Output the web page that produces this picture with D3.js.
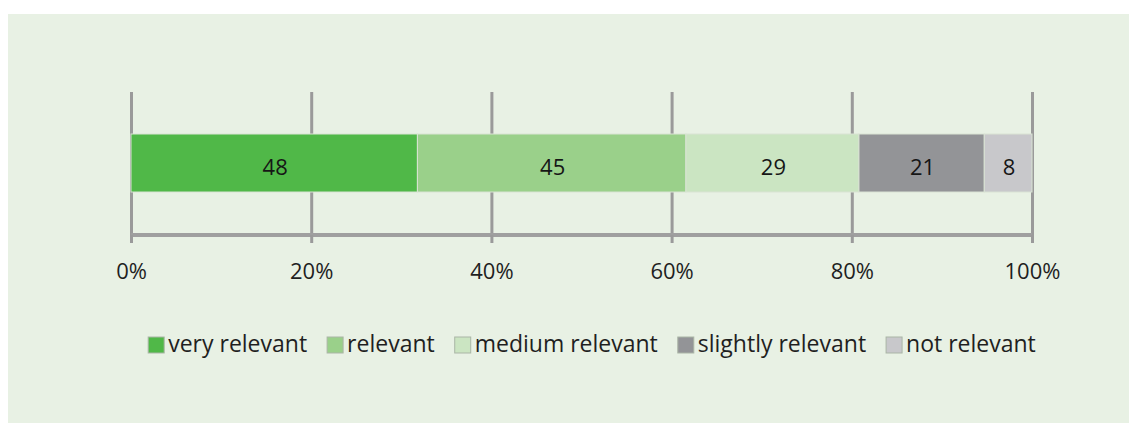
<!DOCTYPE html>
<html>
<head>
<meta charset="utf-8">
<script src="https://cdn.jsdelivr.net/npm/d3@7"></script>
<style>
  html, body { margin: 0; padding: 0; background: #ffffff; }
  svg { display: block; }
</style>
</head>
<body>
<svg id="chart" width="1129" height="423"></svg>
<script>
// ---- data ----
const categories = ["very relevant", "relevant", "medium relevant", "slightly relevant", "not relevant"];
const values = [48, 45, 29, 21, 8];
const colors = ["#50b848", "#9ad08a", "#cbe5c2", "#939497", "#c8c8cb"];
const tickValues = [0, 0.2, 0.4, 0.6, 0.8, 1.0];
const tickLabels = ["0%", "20%", "40%", "60%", "80%", "100%"];

// ---- layout ----
const W = 1129, H = 423;
const svg = d3.select("#chart");
const font = "'Open Sans', Lato, sans-serif";
const textColor = "#1f1f1f";

// panel background
svg.append("rect").attr("x", 8).attr("y", 14).attr("width", W - 8).attr("height", H - 14).attr("fill", "#e8f1e4");

const x = d3.scaleLinear().domain([0, 1]).range([131, 1032]);
const axisY = 235, gridTop = 92;
const barTop = 134, barBottom = 192;

const total = d3.sum(values);
const ends = Array.from(d3.cumsum(values));
const segs = values.map((v, i) => ({ v, i, x0: (ends[i] - v) / total, x1: ends[i] / total }));

// gridlines
const grid = svg.append("g").attr("transform", `translate(0,${axisY})`)
  .call(d3.axisBottom(x).tickValues(tickValues).tickSize(-(axisY - gridTop)).tickFormat(""));
grid.select(".domain").remove();
grid.selectAll(".tick line").attr("stroke", "#9a9a9a").attr("stroke-width", 3);

// bottom axis with small ticks + labels
const ax = svg.append("g").attr("transform", `translate(0,${axisY})`)
  .call(d3.axisBottom(x).tickValues(tickValues).tickSize(8).tickPadding(20)
        .tickFormat((d, i) => tickLabels[i]));
ax.select(".domain").attr("stroke", "#9f9f9f").attr("stroke-width", 4).attr("d", `M${x(0)},0H${x(1)}`);
ax.selectAll(".tick line").attr("stroke", "#9a9a9a").attr("stroke-width", 3);
ax.selectAll(".tick text").attr("font-family", font).attr("font-size", 22).attr("fill", textColor).attr("dy", "0.71em");

// bar segments
const bars = svg.append("g");
bars.selectAll("rect").data(segs).join("rect")
  .attr("x", d => x(d.x0)).attr("y", barTop)
  .attr("width", d => x(d.x1) - x(d.x0)).attr("height", barBottom - barTop)
  .attr("fill", d => colors[d.i])
  .attr("stroke", "#d9e3d4").attr("stroke-width", 1);

bars.selectAll("text").data(segs).join("text")
  .attr("x", d => (x(d.x0) + x(d.x1)) / 2 + 1).attr("y", 175)
  .attr("text-anchor", "middle").attr("font-family", font).attr("font-size", 22)
  .attr("fill", "#161616").text(d => d.v);

// legend
const legend = svg.append("g");
const swatch = 16, swGap = 4, itemGap = 20, legBase = 352;
const items = legend.selectAll("g").data(categories).join("g");
items.append("rect").attr("width", swatch).attr("height", swatch).attr("y", legBase - 15)
  .attr("fill", (d, i) => colors[i]).attr("stroke", "#aab5a6").attr("stroke-width", 1);
items.append("text").attr("x", swatch + swGap).attr("y", legBase)
  .attr("font-family", font).attr("font-size", 23).attr("fill", textColor).text(d => d);
const widths = [];
items.each(function () {
  const w = swatch + swGap + this.querySelector("text").getComputedTextLength();
  widths.push(w);
});
const totalW = d3.sum(widths) + itemGap * (widths.length - 1);
let start = 149 + (886 - totalW) / 2;
items.attr("transform", (d, i) => {
  const t = `translate(${start},0)`;
  start += widths[i] + itemGap;
  return t;
});
</script>
</body>
</html>
